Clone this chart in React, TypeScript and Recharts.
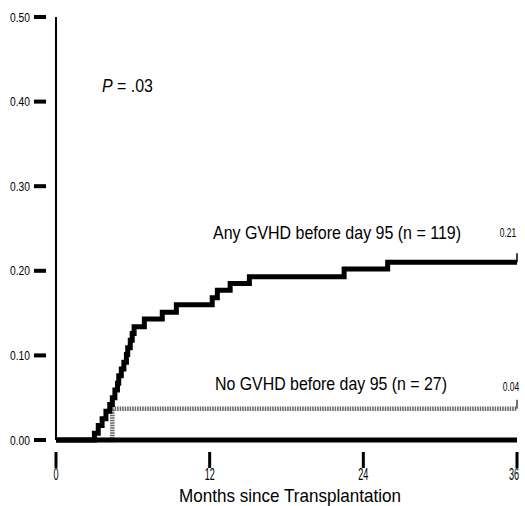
import { LineChart, Line, XAxis, YAxis } from 'recharts';

const FONT = "'Liberation Sans', Arial, sans-serif";

// cumulative incidence, any GVHD before day 95 (n = 119)
const anyMonths = [0, 3.0, 3.3, 3.6, 3.9, 4.2, 4.4, 4.6, 4.8, 4.9, 5.1, 5.3, 5.5, 5.6, 5.8, 5.95, 6.1, 6.9, 8.3, 9.4, 12.2, 12.6, 13.6, 15.1, 22.5, 25.9, 36];
const anyRates = [0, 0.008, 0.017, 0.025, 0.034, 0.042, 0.05, 0.059, 0.067, 0.076, 0.084, 0.092, 0.101, 0.109, 0.118, 0.126, 0.134, 0.143, 0.151, 0.16, 0.168, 0.177, 0.185, 0.193, 0.202, 0.21, 0.21];

// no GVHD before day 95 (n = 27)
const noneMonths = [0, 4.4, 36];
const noneRates = [0, 0.037, 0.037];

const monthTicks = [0, 12, 24, 36];
const rateTicks = [0, 0.1, 0.2, 0.3, 0.4, 0.5];

const anyData = anyMonths.map((m, i) => ({ month: m, rate: anyRates[i] }));
const noneData = noneMonths.map((m, i) => ({ month: m, rate: noneRates[i] }));

function RateTick({ x, y, payload }: any) {
  return (
    <g>
      <rect x={x - 22} y={y - 2} width={12} height={4} fill="#000" />
      <text
        x={x - 46}
        y={y + 4.5}
        fontSize={12.5}
        fontFamily={FONT}
        fill="#000"
        textLength={20}
        lengthAdjust="spacingAndGlyphs"
      >
        {payload.value.toFixed(2)}
      </text>
    </g>
  );
}

function MonthTick({ x, y, payload }: any) {
  const last = payload.value === monthTicks[monthTicks.length - 1];
  return (
    <g>
      <rect x={x - 1.5} y={y + 12} width={3} height={16} fill="#000" />
      <text
        transform={`translate(${last ? x - 3 : x},${y + 40}) scale(0.55,1)`}
        textAnchor="middle"
        fontSize={16.5}
        fontFamily={FONT}
        fill="#000"
      >
        {payload.value}
      </text>
    </g>
  );
}

const endMark = (data: any[], color: string) => (p: any) =>
  p.index === data.length - 1 ? (
    <line key={`end-${p.index}`} x1={p.cx} x2={p.cx} y1={p.cy - 9} y2={p.cy} stroke={color} strokeWidth={1.5} />
  ) : (
    <g key={`d-${p.index}`} />
  );

export default function App() {
  return (
    <div style={{ position: 'absolute', left: 0, top: 0, width: 525, height: 506, background: '#fff' }}>
      <LineChart width={525} height={506} margin={{ top: 17, right: 8, bottom: 6, left: 0 }}>
        <XAxis
          type="number"
          dataKey="month"
          domain={[0, 36]}
          ticks={monthTicks}
          height={60}
          tickSize={0}
          tickMargin={0}
          tickLine={false}
          axisLine={{ stroke: '#000', strokeWidth: 5 }}
          tick={<MonthTick />}
          allowDuplicatedCategory={false}
        />
        <YAxis
          type="number"
          domain={[0, 0.5]}
          ticks={rateTicks}
          width={56}
          tickSize={0}
          tickMargin={0}
          tickLine={false}
          axisLine={{ stroke: '#000', strokeWidth: 2 }}
          tick={<RateTick />}
        />
        <Line
          data={noneData}
          dataKey="rate"
          type="stepAfter"
          stroke="#666"
          strokeWidth={4.5}
          strokeDasharray="1.5 1"
          dot={endMark(noneData, '#444')}
          isAnimationActive={false}
        />
        <Line
          data={anyData}
          dataKey="rate"
          type="stepAfter"
          stroke="#000"
          strokeWidth={5}
          dot={endMark(anyData, '#000')}
          isAnimationActive={false}
        />
      </LineChart>
      <svg width={525} height={506} style={{ position: 'absolute', left: 0, top: 0, pointerEvents: 'none' }}>
        <g fontFamily={FONT} fill="#000">
          <text x={102} y={92} fontSize={18} textLength={51} lengthAdjust="spacingAndGlyphs">
            <tspan fontStyle="italic">P</tspan> = .03
          </text>
          <text x={213} y={239} fontSize={18.5} textLength={248} lengthAdjust="spacingAndGlyphs">
            Any GVHD before day 95 (n = 119)
          </text>
          <text transform="translate(508,237) scale(0.68,1)" textAnchor="middle" fontSize={12.5}>0.21</text>
          <text x={215} y={390} fontSize={18.5} textLength={232} lengthAdjust="spacingAndGlyphs">
            No GVHD before day 95 (n = 27)
          </text>
          <text transform="translate(511,391) scale(0.68,1)" textAnchor="middle" fontSize={12.5}>0.04</text>
          <text x={179} y={502} fontSize={19} textLength={222} lengthAdjust="spacingAndGlyphs">
            Months since Transplantation
          </text>
        </g>
      </svg>
    </div>
  );
}
